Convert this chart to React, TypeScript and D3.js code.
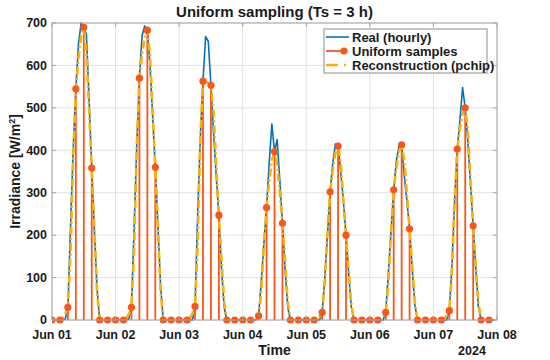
import React from "react";
import * as d3 from "d3";

// Hourly irradiance (W/m^2), one array per day, hours 00..23, Jun 01 – Jun 07 2024
const day1 = [0, 0, 0, 0, 0, 2, 30, 220, 400, 545, 650, 700, 690, 672, 520, 358, 210, 75, 0, 0, 0, 0, 0, 0];
const day2 = [0, 0, 0, 0, 0, 2, 30, 215, 410, 570, 670, 693, 683, 600, 480, 360, 220, 80, 0, 0, 0, 0, 0, 0];
const day3 = [0, 0, 0, 0, 0, 0, 32, 250, 430, 563, 668, 657, 553, 440, 340, 247, 120, 30, 0, 0, 0, 0, 0, 0];
const day4 = [0, 0, 0, 0, 0, 0, 10, 90, 180, 265, 370, 462, 397, 425, 330, 228, 120, 30, 0, 0, 0, 0, 0, 0];
const day5 = [0, 0, 0, 0, 0, 0, 18, 100, 200, 302, 370, 415, 410, 350, 280, 200, 110, 30, 0, 0, 0, 0, 0, 0];
const day6 = [0, 0, 0, 0, 0, 0, 18, 110, 210, 307, 375, 410, 413, 340, 280, 215, 120, 35, 0, 0, 0, 0, 0, 0];
const day7 = [0, 0, 0, 0, 0, 0, 22, 130, 280, 403, 470, 548, 500, 420, 320, 222, 120, 30, 0, 0, 0, 0, 0, 0];

const hourly = [...day1, ...day2, ...day3, ...day4, ...day5, ...day6, ...day7];
const sampleStep = 3; // Ts = 3 h
const yTicks = [0, 100, 200, 300, 400, 500, 600, 700];
const startDate = Date.UTC(2024, 5, 1);
const endDate = Date.UTC(2024, 5, 8);

const title = "Uniform sampling (Ts = 3 h)";
const legendLabels = ["Real (hourly)", "Uniform samples", "Reconstruction (pchip)"];

const COL_BLUE = "#0072BD";
const COL_ORANGE = "#F8561A";
const COL_YELLOW = "#FFB000";
const FONT = "'Liberation Sans', Arial, Helvetica, sans-serif";

// MATLAB-style pchip
function pchip(xs: number[], ys: number[], xq: number[]): number[] {
  const n = xs.length;
  const h: number[] = [];
  const del: number[] = [];
  for (let k = 0; k < n - 1; k++) {
    h.push(xs[k + 1] - xs[k]);
    del.push((ys[k + 1] - ys[k]) / h[k]);
  }
  const d = new Array(n).fill(0);
  for (let k = 1; k < n - 1; k++) {
    if (del[k - 1] * del[k] > 0) {
      const w1 = 2 * h[k] + h[k - 1];
      const w2 = h[k] + 2 * h[k - 1];
      d[k] = (w1 + w2) / (w1 / del[k - 1] + w2 / del[k]);
    }
  }
  const endSlope = (h0: number, h1: number, d0: number, d1: number) => {
    let s = ((2 * h0 + h1) * d0 - h0 * d1) / (h0 + h1);
    if (Math.sign(s) !== Math.sign(d0)) s = 0;
    else if (Math.sign(d0) !== Math.sign(d1) && Math.abs(s) > Math.abs(3 * d0)) s = 3 * d0;
    return s;
  };
  d[0] = endSlope(h[0], h[1], del[0], del[1]);
  d[n - 1] = endSlope(h[n - 2], h[n - 3], del[n - 2], del[n - 3]);
  return xq.map((x) => {
    let k = Math.floor((x - xs[0]) / h[0]);
    k = Math.max(0, Math.min(n - 2, k));
    const hk = h[k];
    const s = x - xs[k];
    const c = (3 * del[k] - 2 * d[k] - d[k + 1]) / hk;
    const b = (d[k] - 2 * del[k] + d[k + 1]) / (hk * hk);
    return ys[k] + s * (d[k] + s * (c + s * b));
  });
}

export default function App() {
  const W = 550, H = 360;
  const L = 52, R = 497, T = 23, B = 320;

  const x = d3.scaleUtc().domain([startDate, endDate]).range([L, R]);
  const y = d3.scaleLinear().domain([0, 700]).range([B, T]);
  const tOf = (i: number) => startDate + i * 3600 * 1000;

  const hours = hourly.map((_, i) => i);
  const sampleIdx = hours.filter((i) => i % sampleStep === 0);
  const sampleVals = sampleIdx.map((i) => hourly[i]);
  const recon = pchip(sampleIdx, sampleVals, hours.filter((i) => i <= sampleIdx[sampleIdx.length - 1]));

  const line = d3.line<[number, number]>().x((d) => x(tOf(d[0]))).y((d) => y(d[1]));
  const realPath = line(hourly.map((v, i) => [i, v] as [number, number])) || "";
  const reconPath = line(recon.map((v, i) => [i, v] as [number, number])) || "";

  const xTicks = d3.utcDay.range(startDate, endDate + 1);
  const fmt = d3.utcFormat("%b %d");

  const gridCol = "#e3e3e3";
  const axisCol = "#a6a6a6";
  const textCol = "#1a1a1a";

  return (
    <svg width={W} height={H} style={{ display: "block", position: "absolute", left: 0, top: 0 }} fontFamily={FONT}>
      <rect x={0} y={0} width={W} height={H} fill="#fff" />
      {/* grid */}
      {yTicks.map((v) => (
        <line key={"gy" + v} x1={L} x2={R} y1={y(v)} y2={y(v)} stroke={gridCol} strokeWidth={1} />
      ))}
      {xTicks.map((t, i) => (
        <line key={"gx" + i} x1={x(t)} x2={x(t)} y1={T} y2={B} stroke={gridCol} strokeWidth={1} />
      ))}
      <defs>
        <clipPath id="plotclip">
          <rect x={L} y={T - 1} width={R - L} height={B - T + 6} />
        </clipPath>
      </defs>
      <g clipPath="url(#plotclip)">
        {/* real hourly */}
        <path d={realPath} fill="none" stroke={COL_BLUE} strokeWidth={1.6} strokeLinejoin="round" />
        {/* stems */}
        {sampleIdx.map((i, k) => (
          <line key={"s" + i} x1={x(tOf(i))} x2={x(tOf(i))} y1={y(0)} y2={y(sampleVals[k])} stroke={COL_ORANGE} strokeWidth={1.8} />
        ))}
        {/* reconstruction */}
        <path d={reconPath} fill="none" stroke={COL_YELLOW} strokeWidth={2.6} strokeDasharray="8,3,2,3" strokeLinejoin="round" />
        {/* markers */}
        {sampleIdx.map((i, k) => (
          <circle key={"m" + i} cx={x(tOf(i))} cy={y(sampleVals[k])} r={3.6} fill={COL_ORANGE} />
        ))}
      </g>
      {/* box */}
      <rect x={L} y={T} width={R - L} height={B - T} fill="none" stroke={axisCol} strokeWidth={1} />
      {/* ticks */}
      {yTicks.map((v) => (
        <g key={"ty" + v}>
          <line x1={L} x2={L + 4} y1={y(v)} y2={y(v)} stroke={axisCol} />
          <line x1={R} x2={R - 4} y1={y(v)} y2={y(v)} stroke={axisCol} />
          <text x={L - 5} y={y(v)} dy="0.34em" textAnchor="end" fontSize={12.5} fontWeight="bold" fill={textCol}>{v}</text>
        </g>
      ))}
      {xTicks.map((t, i) => (
        <g key={"tx" + i}>
          <line x1={x(t)} x2={x(t)} y1={B} y2={B - 4} stroke={axisCol} />
          <line x1={x(t)} x2={x(t)} y1={T} y2={T + 4} stroke={axisCol} />
          <text x={x(t)} y={338.5} textAnchor="middle" fontSize={12.5} fontWeight="bold" fill={textCol}>{fmt(t)}</text>
        </g>
      ))}
      <text x={(L + R) / 2} y={355} textAnchor="middle" fontSize={14} fontWeight="bold" fill={textCol}>Time</text>
      <text x={472} y={355} textAnchor="middle" fontSize={12.5} fontWeight="bold" fill={textCol}>2024</text>
      <text transform={`translate(20,${(T + B) / 2}) rotate(-90)`} textAnchor="middle" fontSize={14} fontWeight="bold" fill={textCol}>
        Irradiance  [W/m<tspan fontSize={9} dy={-5}>2</tspan><tspan dy={5}>]</tspan>
      </text>
      <text x={(L + R) / 2} y={17} textAnchor="middle" fontSize={15} fontWeight="bold" fill={textCol}>{title}</text>
      {/* legend */}
      <g>
        <rect x={324} y={29} width={163} height={44} fill="#fff" stroke="#8c8c8c" strokeWidth={1} />
        <line x1={326} x2={349} y1={37} y2={37} stroke={COL_BLUE} strokeWidth={1.6} />
        <line x1={326} x2={344} y1={51} y2={51} stroke={COL_ORANGE} strokeWidth={1.8} />
        <circle cx={344} cy={51} r={3.6} fill={COL_ORANGE} />
        <line x1={326} x2={350} y1={65} y2={65} stroke={COL_YELLOW} strokeWidth={2.6} strokeDasharray="12,6,2,6" />
        {legendLabels.map((lab, i) => (
          <text key={lab} x={352} y={37 + i * 14} dy="0.36em" fontSize={13} fontWeight="bold" fill={textCol}>{lab}</text>
        ))}
      </g>
    </svg>
  );
}
